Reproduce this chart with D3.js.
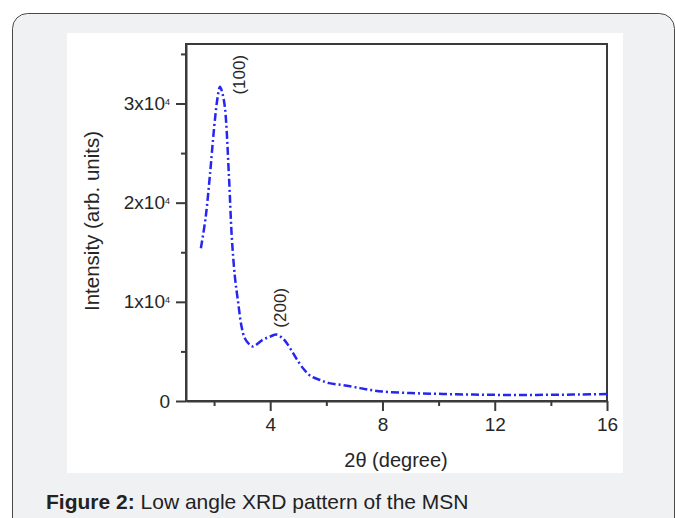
<!DOCTYPE html>
<html>
<head>
<meta charset="utf-8">
<script src="https://cdn.jsdelivr.net/npm/d3@7"></script>
<style>
  html, body { margin: 0; padding: 0; background: #fff; }
  svg { display: block; font-family: "Liberation Sans", Arial, sans-serif; }
</style>
</head>
<body>
<div id="fig"></div>
<script>
const fig_width = 675
const fig_height = 518

// XRD scan (2theta in degrees, intensity in counts)
const two_theta = [1.53, 1.7, 1.85, 2.0, 2.12, 2.21, 2.3, 2.39, 2.53, 2.63, 2.74, 2.86, 2.98, 3.1, 3.3, 3.4,
    3.75, 4.0, 4.23, 4.45, 4.6, 4.8, 4.95, 5.2, 5.45, 5.8, 6.1, 6.6, 7.2, 7.6, 8.0, 9.0, 10, 11, 12, 13, 14, 15, 16]
const intensity = [15400, 18500, 22700, 27500, 30500, 31700, 31000, 29500, 22700, 16600, 12600, 9900, 7500, 6300, 5600, 5500,
    6200, 6500, 6700, 6300, 5800, 4900, 4200, 3200, 2500, 2100, 1800, 1600, 1300, 1100, 950, 800, 720, 660, 620, 600, 630, 650, 700]

const x_ticks = [4, 8, 12, 16]
const x_minor = [2, 6, 10, 14]
const y_ticks = [0, 10000, 20000, 30000]
const y_minor = [5000, 15000, 25000, 35000]

const peak_names = ['(100)', '(200)']
const peak_x = [2.89, 4.35]
const peak_y = [32900, 9400]

const caption_bold = 'Figure 2:'
const caption_rest = ' Low angle XRD pattern of the MSN'

const axis_colour = '#3a3a3a'
const text_colour = '#262626'

let svg = d3.select('#fig')
    .append('svg')
    .attr('width', fig_width)
    .attr('height', fig_height)

// card behind the figure
svg.append('rect')
    .attr('x', 12.5).attr('y', 13.5)
    .attr('width', 662).attr('height', 540)
    .attr('rx', 15)
    .attr('fill', '#f0f1f3')
    .attr('stroke', '#4a4a4a')
    .attr('stroke-width', 1)

svg.append('rect')
    .attr('x', 67).attr('y', 33)
    .attr('width', 556).attr('height', 440)
    .attr('fill', '#fff')

let x = d3.scaleLinear().domain([1, 16]).range([186, 607])
let y = d3.scaleLinear().domain([0, 36000]).range([401, 44])

// frame on top / right
svg.append('rect')
    .attr('x', x.range()[0]).attr('y', y.range()[1])
    .attr('width', x.range()[1] - x.range()[0])
    .attr('height', y.range()[0] - y.range()[1])
    .attr('fill', 'none')
    .attr('stroke', axis_colour)
    .attr('stroke-width', 2)

// minor ticks first
svg.append('g')
    .attr('transform', `translate(0,${y.range()[0]})`)
    .call(d3.axisBottom(x).tickValues(x_minor).tickSize(5).tickSizeOuter(0).tickFormat(''))
    .call(g => g.select('.domain').remove())
svg.append('g')
    .attr('transform', `translate(${x.range()[0]},0)`)
    .call(d3.axisLeft(y).tickValues(y_minor).tickSize(5).tickSizeOuter(0).tickFormat(''))
    .call(g => g.select('.domain').remove())

let xAxis = svg.append('g')
    .attr('transform', `translate(0,${y.range()[0]})`)
    .call(d3.axisBottom(x).tickValues(x_ticks).tickSize(10).tickSizeOuter(0).tickPadding(7))

let yAxis = svg.append('g')
    .attr('transform', `translate(${x.range()[0]},0)`)
    .call(d3.axisLeft(y).tickValues(y_ticks).tickSize(10).tickSizeOuter(0).tickPadding(6))

svg.selectAll('.tick line, .domain')
    .attr('stroke', axis_colour)
    .attr('stroke-width', 2)

svg.selectAll('.tick text')
    .attr('fill', text_colour)
    .style('font-size', '19px')
    .style('font-family', '"Liberation Sans", Arial, sans-serif')

// y labels as Ax10^4
yAxis.selectAll('.tick text').each(function(d) {
    if (d === 0) return
    let t = d3.select(this).text(null)
    t.append('tspan').text(`${d / 10000}x10`)
    t.append('tspan').text('4').attr('dy', '-0.6em').style('font-size', '9px')
})

// the curve
let line = d3.line()
    .x((d, i) => x(two_theta[i]))
    .y(d => y(d))
    .curve(d3.curveCatmullRom)

svg.append('path')
    .datum(intensity)
    .attr('d', line)
    .attr('fill', 'none')
    .attr('stroke', '#2626f2')
    .attr('stroke-width', 2.5)
    .attr('stroke-dasharray', '8,3,2,3')

svg.selectAll('text.peak')
    .data(peak_names)
    .join('text')
    .attr('class', 'peak')
    .attr('transform', (d, i) => `translate(${x(peak_x[i])},${y(peak_y[i])}) rotate(-90)`)
    .attr('text-anchor', 'middle')
    .attr('dy', '0.35em')
    .attr('fill', text_colour)
    .style('font-size', '17px')
    .text(d => d)

// axis titles
svg.append('text')
    .attr('transform', `translate(92,221) rotate(-90)`)
    .attr('text-anchor', 'middle')
    .attr('dy', '0.35em')
    .attr('fill', text_colour)
    .style('font-size', '20.5px')
    .text('Intensity (arb. units)')

svg.append('text')
    .attr('x', 396).attr('y', 467)
    .attr('text-anchor', 'middle')
    .attr('fill', text_colour)
    .style('font-size', '20px')
    .text('2θ (degree)')

let cap = svg.append('text')
    .attr('x', 46).attr('y', 509)
    .attr('fill', '#222')
    .style('font-size', '21px')
cap.append('tspan').style('font-weight', 'bold').text(caption_bold)
cap.append('tspan').text(caption_rest)
</script>
</body>
</html>
